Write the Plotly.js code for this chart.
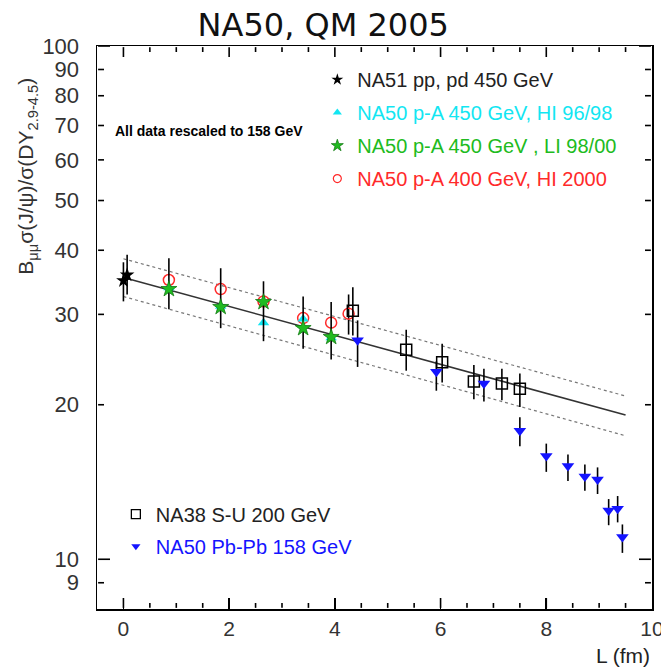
<!DOCTYPE html>
<html>
<head>
<meta charset="utf-8">
<script src="https://cdn.plot.ly/plotly-3.0.1.min.js"></script>
<style>html,body{margin:0;padding:0;background:#fff;}#chart{width:661px;height:668px;}</style>
</head>
<body>
<div id="chart"></div>
<script>
// ---- data ----
const na51X = [0.00, 0.07];
const na51Y = [34.9, 35.8];
const na51Plus = [3.0, 3.4];
const na51Minus = [3.1, 3.0];

const hiX = [0.86, 1.84, 2.65, 3.40, 3.93];
const hiY = [33.8, 31.1, 28.9, 29.4, 27.0];

const liX = [0.86, 1.84, 2.65, 3.40, 3.93];
const liY = [33.6, 31.0, 31.7, 28.2, 27.1];
const liPlus = [5.0, 5.9, 3.1, 4.3, 4.6];
const liMinus = [2.9, 2.8, 5.1, 2.5, 2.6];

const hi2000X = [0.86, 1.84, 2.65, 3.40, 3.93, 4.26];
const hi2000Y = [35.0, 33.6, 31.8, 29.5, 28.9, 30.1];
const hi2000Plus = [0, 0, 0, 0, 0, 2.7];
const hi2000Minus = [0, 0, 0, 0, 0, 2.7];

const na38X = [4.34, 5.35, 6.03, 6.63, 7.16, 7.50];
const na38Y = [30.5, 25.6, 24.2, 22.2, 22.0, 21.5];
const na38Plus = [3.4, 2.4, 2.1, 1.7, 1.5, 1.5];
const na38Minus = [3.2, 2.3, 2.1, 1.7, 1.6, 1.7];

const pbX = [4.43, 5.92, 6.82, 7.50, 8.00, 8.41, 8.73, 8.97, 9.18, 9.35, 9.44];
const pbY = [26.7, 23.2, 22.0, 17.8, 15.9, 15.2, 14.5, 14.3, 12.45, 12.55, 11.05];
const pbPlus = [2.5, 1.1, 1.5, 1.1, 0.9, 0.8, 0.8, 0.8, 0.65, 0.73, 0.64];
const pbMinus = [3.0, 1.9, 1.7, 1.2, 1.1, 1.0, 0.9, 0.9, 0.8, 0.75, 0.76];

const fitX = [0, 9.5];
const fitY = [35.4, 19.1];
const fitUpY = [38.5, 20.8];
const fitLoY = [32.5, 17.4];

const xTickVals = [0, 2, 4, 6, 8, 10];
const yTickVals = [9, 10, 20, 30, 40, 50, 60, 70, 80, 90, 100];
const yTickText = ['9', '10', '20', '30', '40', '50', '60', '70', '80', '90', '100'];
const yLongTicks = [10, 100];

const legendNames = {
  na51: 'NA51 pp, pd 450 GeV',
  hi: 'NA50 p-A 450 GeV, HI 96/98',
  li: 'NA50 p-A 450 GeV , LI 98/00',
  hi2000: 'NA50 p-A 400 GeV, HI 2000',
  na38: 'NA38 S-U 200 GeV',
  pb: 'NA50 Pb-Pb 158 GeV'
};

// ---- styles ----
const FONT = 'Liberation Sans, Arial, sans-serif';
const cCyan = '#12e6f2', cGreen = '#20bb20', cRed = '#ff2a2a', cBlue = '#1414ff';
const X_RANGE = [-0.5, 10];
const Y_RANGE = [Math.log10(8), 2];
const MARGIN = {l: 97, r: 9, t: 46, b: 59};
const W = 661, H = 668;
const plotW = W - MARGIN.l - MARGIN.r, plotH = H - MARGIN.t - MARGIN.b;

function err(p, m) {
  return {type: 'data', symmetric: false, array: p, arrayminus: m, color: '#000', thickness: 1.6, width: 0};
}
function span(col, t) { return '<span style="color:' + col + '">' + t + '</span>'; }

const symNA51 = {symbol: 'star', color: '#000'};
const symHI = {symbol: 'triangle-up', color: cCyan};
const symLI = {symbol: 'star', color: cGreen, line: {color: '#137a13', width: 0.8}};
const symHI2000 = {symbol: 'circle-open', color: cRed, line: {width: 1.5}};
const symNA38 = {symbol: 'square-open', color: '#000', line: {width: 1.5}};
const symPB = {symbol: 'triangle-down', color: cBlue};

// ---- inward frame ticks on all four sides, built from the tick values ----
function xAt(p) { return X_RANGE[0] + p * (X_RANGE[1] - X_RANGE[0]); }
function yAt(p) { return Math.pow(10, Y_RANGE[0] + p * (Y_RANGE[1] - Y_RANGE[0])); }
const tickX = [], tickY = [];
function seg(x0, y0, x1, y1) { tickX.push(x0, x1, null); tickY.push(y0, y1, null); }
for (let k = 1; k <= 20; k++) {
  const v = X_RANGE[0] + 0.5 * k;
  if (v > X_RANGE[1] + 1e-9) break;
  const l = (xTickVals.indexOf(v) >= 0 ? 11 : 6) / plotH;
  seg(v, yAt(0.002), v, yAt(l));
  seg(v, yAt(0.998), v, yAt(1 - l));
}
yTickVals.forEach(v => {
  const l = (yLongTicks.indexOf(v) >= 0 ? 13 : 7) / plotW;
  seg(xAt(0.002), v, xAt(l), v);
  seg(xAt(0.998), v, xAt(1 - l), v);
});

const traces = [
  {x: tickX, y: tickY, mode: 'lines', line: {color: '#000', width: 1.6}, connectgaps: false, showlegend: false},
  {x: fitX, y: fitUpY, mode: 'lines', line: {color: '#777', width: 1.2, dash: 'dot'}, showlegend: false},
  {x: fitX, y: fitLoY, mode: 'lines', line: {color: '#777', width: 1.2, dash: 'dot'}, showlegend: false},
  {x: fitX, y: fitY, mode: 'lines', line: {color: '#333', width: 1.6}, showlegend: false},
  {x: na51X, y: na51Y, mode: 'markers', showlegend: false, marker: Object.assign({size: 11}, symNA51), error_y: err(na51Plus, na51Minus)},
  {x: hi2000X, y: hi2000Y, mode: 'markers', showlegend: false, marker: Object.assign({size: 11}, symHI2000), error_y: err(hi2000Plus, hi2000Minus)},
  {x: hiX, y: hiY, mode: 'markers', showlegend: false, marker: Object.assign({size: 10}, symHI)},
  {x: liX, y: liY, mode: 'markers', showlegend: false, marker: Object.assign({size: 12}, symLI), error_y: err(liPlus, liMinus)},
  {x: na38X, y: na38Y, mode: 'markers', showlegend: false, marker: Object.assign({size: 11}, symNA38), error_y: err(na38Plus, na38Minus)},
  {x: pbX, y: pbY, mode: 'markers', showlegend: false, marker: Object.assign({size: 11}, symPB), error_y: err(pbPlus, pbMinus)}
];

function legendEntry(name, col, sym, size, legend, group) {
  return {x: [null], y: [null], mode: 'markers', name: span(col, name), legend: legend, legendgroup: group,
          marker: Object.assign({size: size}, sym), showlegend: true};
}
traces.push(legendEntry(legendNames.na51, '#222', symNA51, 9, 'legend', 'a'));
traces.push(legendEntry(legendNames.hi, cCyan, symHI, 8, 'legend', 'b'));
traces.push(legendEntry(legendNames.li, cGreen, symLI, 9, 'legend', 'c'));
traces.push(legendEntry(legendNames.hi2000, cRed, Object.assign({}, symHI2000, {line: {width: 1.2}}), 8, 'legend', 'd'));
traces.push(legendEntry(legendNames.na38, '#222', Object.assign({}, symNA38, {line: {width: 1.3}}), 9, 'legend2', 'e'));
traces.push(legendEntry(legendNames.pb, cBlue, symPB, 8, 'legend2', 'f'));

const layout = {
  width: W, height: H,
  margin: MARGIN,
  paper_bgcolor: '#fff', plot_bgcolor: '#fff',
  font: {family: FONT, color: '#222'},
  hovermode: false,
  title: {text: 'NA50, QM 2005', font: {family: 'DejaVu Sans, sans-serif', size: 32, color: '#111'},
          x: 0.489, xref: 'container', y: 0.963, yref: 'container', xanchor: 'center', yanchor: 'middle'},
  xaxis: {
    range: X_RANGE, tick0: 0, dtick: 2, ticks: 'inside', ticklen: 11, tickwidth: 1.6, tickcolor: '#000',
    showline: true, linecolor: '#000', linewidth: 1.5, mirror: true, showgrid: false, zeroline: false,
    tickfont: {family: FONT, size: 21, color: '#333'}, ticklabeloverflow: 'allow'
  },
  yaxis: {
    type: 'log', range: Y_RANGE, tickmode: 'array', tickvals: yTickVals, ticktext: yTickText, ticks: '',
    showline: true, linecolor: '#000', linewidth: 1.5, mirror: true, showgrid: false, zeroline: false,
    tickfont: {family: FONT, size: 22, color: '#333'}, ticklabelstandoff: 12, ticklabeloverflow: 'allow'
  },
  legend: {x: 0.397, y: 0.975, xanchor: 'left', yanchor: 'top', bgcolor: 'rgba(0,0,0,0)',
           font: {family: FONT, size: 20}, traceorder: 'grouped', tracegroupgap: 4, itemclick: false},
  legend2: {x: 0.034, y: 0.203, xanchor: 'left', yanchor: 'top', bgcolor: 'rgba(0,0,0,0)',
            font: {family: FONT, size: 20}, traceorder: 'grouped', tracegroupgap: 3, itemclick: false},
  annotations: [
    {text: '<b>All data rescaled to 158 GeV</b>', xref: 'paper', yref: 'paper', x: 0.202, y: 0.849,
     xanchor: 'center', yanchor: 'middle', showarrow: false, font: {family: FONT, size: 14, color: '#000'}},
    {text: 'B<sub>μμ</sub>σ(J/ψ)/σ(DY<sub>2.9-4.5</sub>)', xref: 'paper', yref: 'paper', x: -0.126, y: 0.768,
     xanchor: 'center', yanchor: 'middle', textangle: -90, showarrow: false, font: {family: FONT, size: 21, color: '#333'}},
    {text: 'L (fm)', xref: 'paper', yref: 'paper', x: 1.0, y: -0.082, xanchor: 'right', yanchor: 'middle',
     showarrow: false, font: {family: FONT, size: 21, color: '#222'}}
  ]
};

Plotly.newPlot('chart', traces, layout, {displayModeBar: false, staticPlot: true});
</script>
</body>
</html>
